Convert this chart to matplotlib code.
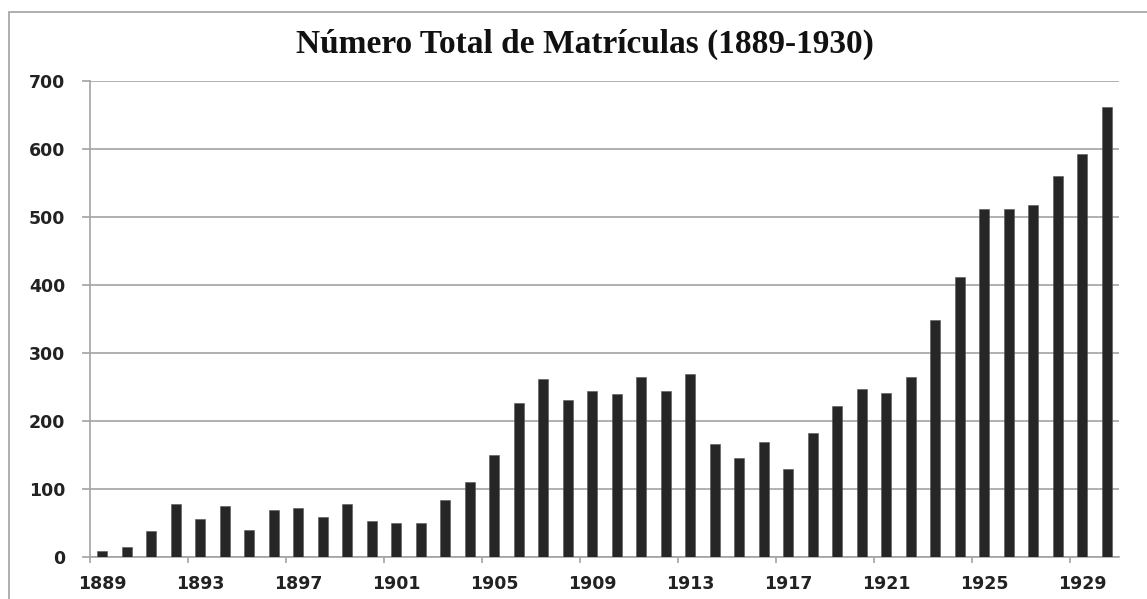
import numpy as np
import matplotlib
matplotlib.use("Agg")
import matplotlib.pyplot as plt
from matplotlib.patches import Rectangle

# enrolment counts
years = list(range(1889, 1931))
matriculas = [9, 14, 38, 78, 56, 75, 39, 68, 71, 58,
              78, 52, 49, 50, 83, 110, 149, 226, 262, 230,
              244, 240, 265, 243, 269, 166, 145, 168, 129, 182,
              222, 246, 241, 264, 348, 412, 511, 512, 517, 560,
              592, 662]
yticks = [0, 100, 200, 300, 400, 500, 600, 700]
label_years = years[::4]
title = "Número Total de Matrículas (1889-1930)"

W, H = 1147, 599
fig = plt.figure(figsize=(W / 100, H / 100), dpi=100)
ax = fig.add_axes([90 / W, 1 - 556.7 / H, (1119 - 90) / W, (556.7 - 80.7) / H])

grid_c = "#a3a3a3"
ax.bar(years, matriculas, width=0.42, color="#262626", edgecolor="#555555",
       linewidth=0.4, zorder=3)

ax.set_xlim(1888.5, 1930.5)
ax.set_ylim(0, 700)
ax.set_yticks(yticks)
ax.yaxis.grid(True, color=grid_c, lw=1.2, zorder=0)

for s in ["top", "right"]:
    ax.spines[s].set_visible(False)
for s in ["left", "bottom"]:
    ax.spines[s].set_color(grid_c)
    ax.spines[s].set_linewidth(1.2)

ax.set_xticks(label_years)
ax.set_xticks(np.arange(1888.5, 1931, 4), minor=True)
ax.tick_params(axis="x", which="major", length=0, pad=13)
ax.tick_params(axis="x", which="minor", length=4, width=1.2, color=grid_c)
ax.tick_params(axis="y", length=6, width=1.2, color=grid_c, pad=12)

for lab in ax.get_xticklabels() + ax.get_yticklabels():
    lab.set_fontsize(12.5)
    lab.set_fontweight("bold")
    lab.set_color("#222222")
    lab.set_family("DejaVu Sans")

fig.text(585 / W, 1 - 44 / H, title, ha="center", va="center",
         fontsize=24, fontweight="bold", family="Liberation Serif", color="#111111")

# outer chart frame (runs off the right and bottom edges)
fig.patches.append(Rectangle((9 / W, -0.1), 1.2, (H - 12) / H + 0.1,
                             transform=fig.transFigure, fill=False,
                             edgecolor="#a8a8a8", lw=1.3))

fig.savefig("out.png", dpi=100)
